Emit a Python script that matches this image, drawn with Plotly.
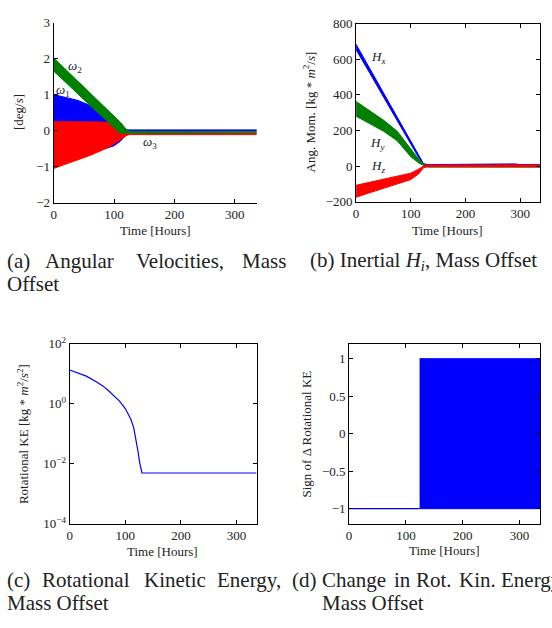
import plotly.graph_objects as go

W, H = 552, 628

# ---------------- data ----------------
# (a) angular velocities, envelopes of dense oscillation [deg/s]
t_w1 = [0, 20, 40, 60, 80, 90, 100, 110, 120, 125, 150, 200, 250, 300, 336]
w1_upper = [1.0, 0.93, 0.84, 0.70, 0.50, 0.38, 0.25, 0.12, 0.03, 0.02, 0.02, 0.02, 0.02, 0.02, 0.02]
w1_lower = [-1.0, -0.88, -0.78, -0.66, -0.53, -0.47, -0.42, -0.30, -0.12, -0.02, -0.01, -0.01, -0.01, -0.01, -0.01]

t_w3 = [0, 20, 40, 60, 80, 90, 100, 110, 120, 125, 150, 200, 250, 300, 336]
w3_upper = [0.25, 0.25, 0.25, 0.25, 0.24, 0.22, 0.18, 0.12, 0.0, -0.07, -0.08, -0.08, -0.08, -0.08, -0.08]
w3_lower = [-1.05, -0.92, -0.81, -0.69, -0.55, -0.47, -0.37, -0.26, -0.14, -0.11, -0.11, -0.11, -0.11, -0.11, -0.11]

t_w2 = [0, 25, 50, 75, 100, 105, 106, 110, 115, 120, 125, 150, 200, 250, 300, 336]
w2_upper = [2.02, 1.62, 1.22, 0.82, 0.42, 0.34, 0.32, 0.24, 0.14, 0.04, -0.02, -0.03, -0.03, -0.03, -0.03, -0.03]
w2_lower = [1.65, 1.26, 0.86, 0.46, 0.08, 0.02, -0.05, -0.07, -0.08, -0.08, -0.06, -0.06, -0.06, -0.06, -0.06, -0.06]

# (b) inertial angular momentum envelopes [kg m^2/s]
t_h = [0, 25, 50, 75, 100, 115, 123, 130, 160, 200, 250, 290, 300, 336]
hx_upper = [684, 548, 412, 276, 140, 58, 14, 8, 9, 8, 9, 12, 8, 8]
hx_lower = [653, 522, 388, 254, 122, 44, 6, 2, 3, 2, 3, 5, 2, 2]
hy_upper = [363, 310, 258, 196, 92, 36, 12, 2, 3, 2, 2, 3, 2, 2]
hy_lower = [280, 240, 196, 142, 52, 16, 4, -6, -5, -6, -6, -5, -6, -6]
hz_upper = [-108, -92, -76, -60, -40, -16, 0, 6, 7, 6, 6, 7, 6, 6]
hz_lower = [-175, -150, -126, -102, -76, -42, -10, -4, -4, -5, -4, -4, -5, -5]

# (c) rotational kinetic energy [kg m^2/s^2]
t_ke = [0, 30, 50, 60, 70, 80, 90, 100, 105, 110, 115, 120, 123, 126, 130, 200, 250, 300, 336]
ke = [13.3, 8.3, 5.05, 3.84, 2.70, 1.82, 1.19, 0.689, 0.474, 0.303, 0.163, 0.060, 0.025, 0.0105,
      0.0049, 0.0049, 0.0049, 0.0049, 0.0049]

# (d) sign of change in rotational KE
t_sign_const = [0, 124]
sign_const = [-1, -1]
t_sign_osc = [124, 336]
sign_osc_upper = [1, 1]
sign_osc_lower = [-1, -1]

# ---------------- layout helpers ----------------
def dom_x(p0, p1):
    return [p0 / W, p1 / W]

def dom_y(p0, p1):  # p0 top pixel, p1 bottom pixel
    return [1 - p1 / H, 1 - p0 / H]

BLUE, GREEN, RED = "#0000ff", "#008000", "#ff0000"
SERIF = "Liberation Serif, Times New Roman, serif"

fig = go.Figure()

def band(t, up, lo, color, xa, ya):
    fig.add_trace(go.Scatter(
        x=list(t) + list(t)[::-1], y=list(up) + list(lo)[::-1],
        fill="toself", fillcolor=color, mode="lines",
        line=dict(color=color, width=1), xaxis=xa, yaxis=ya,
        hoverinfo="skip", showlegend=False))

# (a)
band(t_w1, w1_upper, w1_lower, BLUE, "x", "y")
band(t_w3, w3_upper, w3_lower, RED, "x", "y")
band(t_w2, w2_upper, w2_lower, GREEN, "x", "y")
# (b)
band(t_h, hx_upper, hx_lower, BLUE, "x2", "y2")
band(t_h, hy_upper, hy_lower, GREEN, "x2", "y2")
band(t_h, hz_upper, hz_lower, RED, "x2", "y2")
# (c)
fig.add_trace(go.Scatter(x=t_ke, y=ke, mode="lines", line=dict(color=BLUE, width=1.2),
                         xaxis="x3", yaxis="y3", showlegend=False, hoverinfo="skip"))
# (d)
fig.add_trace(go.Scatter(x=t_sign_const, y=sign_const, mode="lines", line=dict(color=BLUE, width=1.2),
                         xaxis="x4", yaxis="y4", showlegend=False, hoverinfo="skip"))
band(t_sign_osc, sign_osc_upper, sign_osc_lower, BLUE, "x4", "y4")

tickfont = dict(family=SERIF, size=13, color="#222")
common_x = dict(range=[0, 336], tickvals=[0, 100, 200, 300], ticks="inside", ticklen=4,
                showline=True, linecolor="black", linewidth=1, showgrid=False, zeroline=False,
                tickfont=tickfont, tickcolor="black")
common_y = dict(ticks="inside", ticklen=4, showline=True, linecolor="black", linewidth=1,
                showgrid=False, zeroline=False, tickfont=tickfont, tickcolor="black")

fig.update_layout(
    width=W, height=H, margin=dict(l=0, r=0, t=0, b=0),
    paper_bgcolor="white", plot_bgcolor="white", showlegend=False,
    xaxis=dict(common_x, domain=dom_x(51, 255), anchor="y", mirror=False),
    yaxis=dict(common_y, domain=dom_y(14, 199), anchor="x", range=[-2, 3], dtick=1, mirror=False),
    xaxis2=dict(common_x, domain=dom_x(355, 540), anchor="y2", mirror="ticks"),
    yaxis2=dict(common_y, domain=dom_y(15, 198), anchor="x2", range=[-200, 800], dtick=200, mirror="ticks"),
    xaxis3=dict(common_x, domain=dom_x(67, 255), anchor="y3", mirror="ticks"),
    yaxis3=dict(common_y, domain=dom_y(344, 529), anchor="x3", type="log", range=[-4, 2],
                tickvals=[1e-4, 1e-2, 1, 100],
                ticktext=["10<sup>−4</sup>", "10<sup>−2</sup>", "10<sup>0</sup>", "10<sup>2</sup>"],
                mirror="ticks"),
    xaxis4=dict(common_x, domain=dom_x(348, 540), anchor="y4", mirror="ticks"),
    yaxis4=dict(common_y, domain=dom_y(344, 529), anchor="x4", range=[-1.2, 1.2],
                tickvals=[-1, -0.5, 0, 0.5, 1], mirror="ticks"),
)

ann = []
def txt(x, y, s, size=13, angle=0, xanchor="center", yanchor="middle"):
    ann.append(dict(x=x / W, y=1 - y / H, xref="paper", yref="paper", text=s, showarrow=False,
                    textangle=angle, xanchor=xanchor, yanchor=yanchor, borderpad=0, borderwidth=0,
                    font=dict(family=SERIF, size=size, color="#222")))

# axis titles
txt(15, 106, "[deg/<i>s</i>]", angle=-90)
txt(153, 228, "Time [Hours]")
txt(308, 106, "Ang. Mom. [kg * <i>m</i><sup>2</sup>/<i>s</i>]", angle=-90)
txt(447, 228, "Time [Hours]")
txt(20, 437, "Rotational KE [kg * <i>m</i><sup>2</sup>/<i>s</i><sup>2</sup>]", angle=-90)
txt(160, 558, "Time [Hours]")
txt(305, 437, "Sign of Δ Rotational KE", angle=-90)
txt(444, 557, "Time [Hours]")

# series labels (data coords)
def lab(x, y, s, xr, yr):
    ann.append(dict(x=x, y=y, xref=xr, yref=yr, text=s, showarrow=False,
                    font=dict(family=SERIF, size=13, color="#222")))
lab(35, 1.77, "<i>ω</i><sub>2</sub>", "x", "y")
lab(15, 1.12, "<i>ω</i><sub>1</sub>", "x", "y")
lab(160, -0.32, "<i>ω</i><sub>3</sub>", "x", "y")
lab(40, 610, "<i>H<sub>x</sub></i>", "x2", "y2")
lab(40, 125, "<i>H<sub>y</sub></i>", "x2", "y2")
lab(40, -5, "<i>H<sub>z</sub></i>", "x2", "y2")

# captions (justified words placed individually)
CS = 21
txt(4, 259, "(a)", CS, xanchor="left")
txt(42, 259, "Angular", CS, xanchor="left")
txt(134, 259, "Velocities,", CS, xanchor="left")
txt(240, 259, "Mass", CS, xanchor="left")
txt(4, 283, "Offset", CS, xanchor="left")
txt(309, 259, "(b) Inertial <i>H<sub>i</sub></i>, Mass Offset", CS, xanchor="left")

txt(4, 587, "(c)", CS, xanchor="left")
txt(39, 587, "Rotational", CS, xanchor="left")
txt(142, 587, "Kinetic", CS, xanchor="left")
txt(215, 587, "Energy,", CS, xanchor="left")
txt(4, 611, "Mass Offset", CS, xanchor="left")
txt(291, 587, "(d)", CS, xanchor="left")
txt(321, 587, "Change", CS, xanchor="left")
txt(393, 587, "in", CS, xanchor="left")
txt(415, 587, "Rot.", CS, xanchor="left")
txt(458, 587, "Kin.", CS, xanchor="left")
txt(501, 587, "Energy,", CS, xanchor="left")
txt(321, 611, "Mass Offset", CS, xanchor="left")

fig.update_layout(annotations=ann)
fig.write_html("out.html")
